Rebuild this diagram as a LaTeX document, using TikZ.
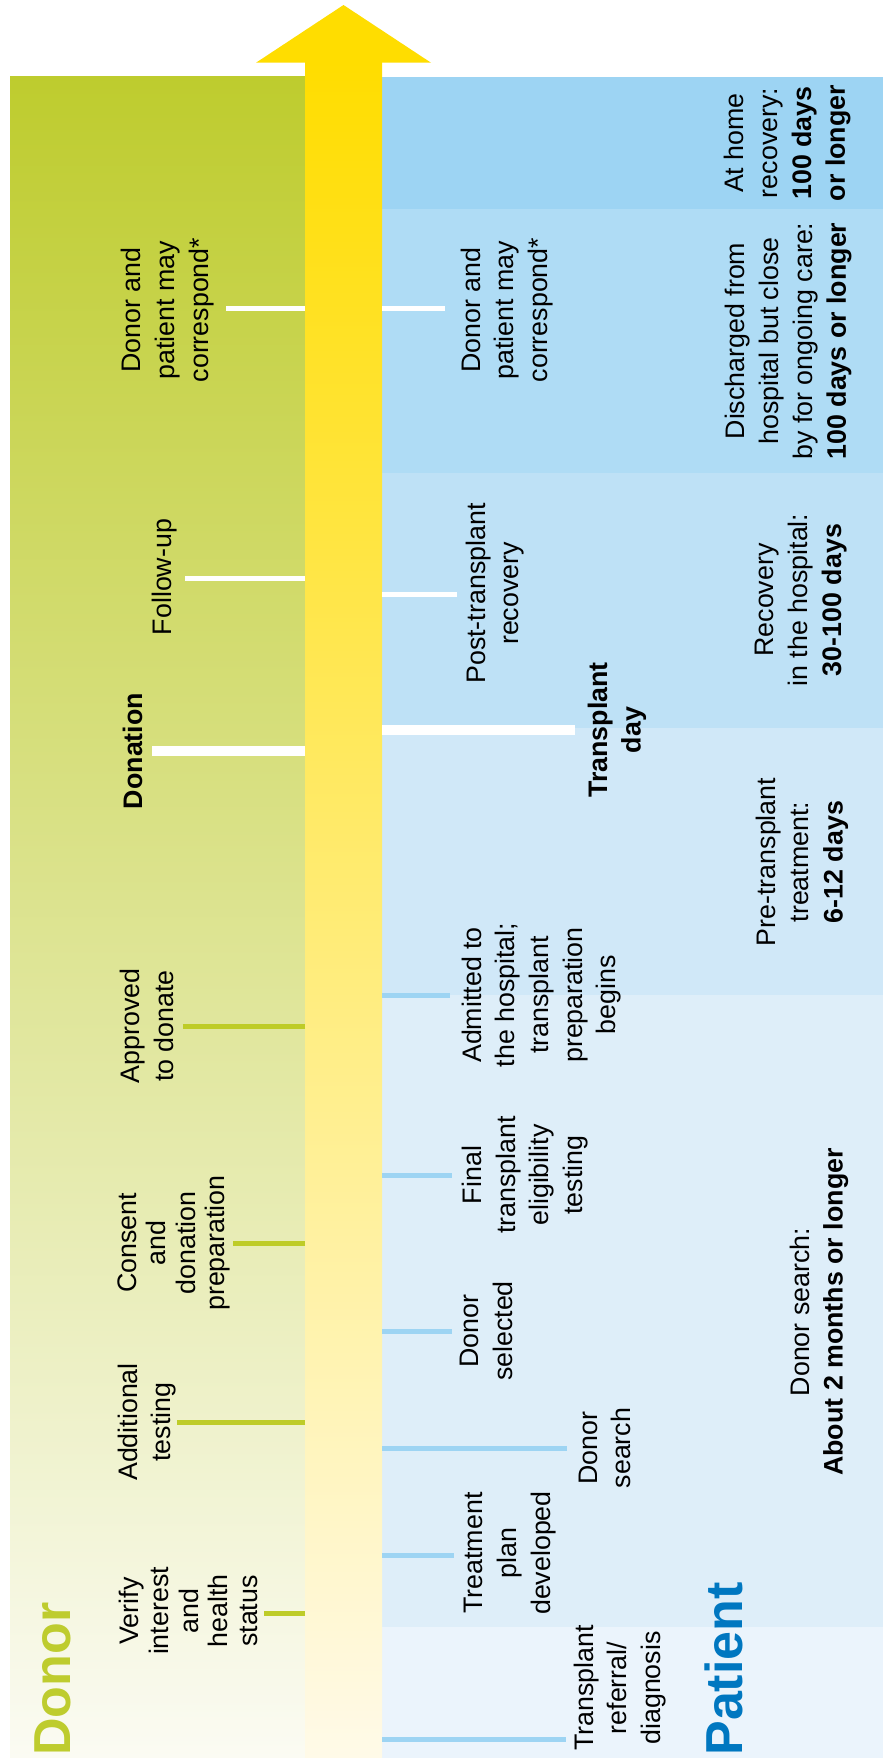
\documentclass[tikz,border=0pt]{standalone}
\usepackage{fontspec}
\setmainfont{Liberation Sans}
\definecolor{grtop}{RGB}{190,204,46}
\definecolor{grbot}{RGB}{251,251,243}
\definecolor{yel}{RGB}{255,221,0}
\definecolor{yelbot}{RGB}{255,250,232}
\definecolor{bandA}{RGB}{157,212,243}
\definecolor{bandB}{RGB}{175,220,245}
\definecolor{bandC}{RGB}{190,225,246}
\definecolor{bandD}{RGB}{208,232,248}
\definecolor{bandE}{RGB}{222,238,249}
\definecolor{bandF}{RGB}{235,244,252}
\definecolor{tickgreen}{RGB}{190,204,40}
\definecolor{tickblue}{RGB}{157,212,243}
\definecolor{patblue}{RGB}{0,119,192}
\begin{document}
\begin{tikzpicture}[x=0.5pt,y=-0.5pt,
  lbl/.style={font=\fontsize{13.4pt}{16.8pt}\selectfont, align=center, inner sep=0pt, rotate=90},
  tight/.style={font=\fontsize{13.4pt}{14.8pt}\selectfont},
  tickw/.style={draw=white, line width=2.5pt},
  tickwt/.style={draw=white, line width=5pt},
  tickg/.style={draw=tickgreen, line width=2.5pt},
  tickb/.style={draw=tickblue, line width=2.5pt},
  heading/.style={font=\fontsize{26pt}{30pt}\selectfont\bfseries, inner sep=0pt, rotate=90, anchor=base west},
]
\useasboundingbox (0,0) rectangle (883,1758);
\fill[white] (0,0) rectangle (883,1758);
% donor panel
\shade[top color=grtop, bottom color=grbot] (10,76) rectangle (305,1758);
% patient bands
\fill[bandA] (382,77) rectangle (883,209);
\fill[bandB] (382,209) rectangle (883,473);
\fill[bandC] (382,473) rectangle (883,728);
\fill[bandD] (382,728) rectangle (883,995);
\fill[bandE] (382,995) rectangle (883,1627);
\fill[bandF] (382,1627) rectangle (883,1758);
% arrow
\shade[top color=yel, bottom color=yelbot] (305,62) rectangle (382,1758);
\fill[yel] (256,62.7) -- (431,62.7) -- (343.5,5) -- cycle;

% tick coordinates
\coordinate (gs1) at (305,308);  \coordinate (ge1) at (226,308);
\coordinate (gs2) at (305,578);  \coordinate (ge2) at (185,578);
\coordinate (gs3) at (305,751);  \coordinate (ge3) at (152,751);
\coordinate (gs4) at (305,1026); \coordinate (ge4) at (183,1026);
\coordinate (gs5) at (305,1243); \coordinate (ge5) at (233,1243);
\coordinate (gs6) at (305,1422); \coordinate (ge6) at (177,1422);
\coordinate (gs7) at (305,1613); \coordinate (ge7) at (264,1613);
\coordinate (ps1) at (382,308);  \coordinate (pe1) at (445,308);
\coordinate (ps2) at (382,594);  \coordinate (pe2) at (457,594);
\coordinate (ps3) at (382,730);  \coordinate (pe3) at (575,730);
\coordinate (ps4) at (382,995);  \coordinate (pe4) at (450,995);
\coordinate (ps5) at (382,1175); \coordinate (pe5) at (452,1175);
\coordinate (ps6) at (382,1331); \coordinate (pe6) at (452,1331);
\coordinate (ps7) at (382,1448); \coordinate (pe7) at (567,1448);
\coordinate (ps8) at (382,1555); \coordinate (pe8) at (454,1555);
\coordinate (ps9) at (382,1739); \coordinate (pe9) at (566,1739);

\draw[tickw]  (gs1) -- (ge1);
\draw[tickw]  (gs2) -- (ge2);
\draw[tickwt] (gs3) -- (ge3);
\draw[tickg]  (gs4) -- (ge4);
\draw[tickg]  (gs5) -- (ge5);
\draw[tickg]  (gs6) -- (ge6);
\draw[tickg]  (gs7) -- (ge7);
\draw[tickw]  (ps1) -- (pe1);
\draw[tickw]  (ps2) -- (pe2);
\draw[tickwt] (ps3) -- (pe3);
\draw[tickb]  (ps4) -- (pe4);
\draw[tickb]  (ps5) -- (pe5);
\draw[tickb]  (ps6) -- (pe6);
\draw[tickb]  (ps7) -- (pe7);
\draw[tickb]  (ps8) -- (pe8);
\draw[tickb]  (ps9) -- (pe9);

% headings
\node[heading, text=grtop] (donorhead) at (70,1756) {Donor};
\node[heading, text=patblue] (patienthead) at (742,1756) {Patient};

% donor labels
\node[lbl] (gcorr) at (167.5,310) {Donor and\\patient may\\correspond*};
\node[lbl] (gfollow) at (164.5,577) {Follow-up};
\node[lbl] (gdonation) at (132.5,751) {\textbf{Donation}};
\node[lbl] (gapproved) at (146.7,1026) {Approved\\to donate};
\node[lbl, tight] (gconsent) at (174,1243) {Consent\\and\\donation\\preparation};
\node[lbl] (gadd) at (147,1422) {Additional\\testing};
\node[lbl, tight] (gverify) at (188.5,1611) {Verify\\interest\\and\\health\\status};

% patient labels
\node[lbl] (pcorr) at (507,310) {Donor and\\patient may\\correspond*};
\node[lbl] (ppost) at (495,593.5) {Post-transplant\\recovery};
\node[lbl] (pday) at (617,730) {\textbf{Transplant}\\\textbf{day}};
\node[lbl] (padmit) at (541.5,995) {Admitted to\\the hospital;\\transplant\\preparation\\begins};
\node[lbl] (pfinal) at (525,1175) {Final\\transplant\\eligibility\\testing};
\node[lbl] (psel) at (486.5,1331) {Donor\\selected};
\node[lbl] (psearch) at (605,1448) {Donor\\search};
\node[lbl] (ptreat) at (510,1553) {Treatment\\plan\\developed};
\node[lbl] (pref) at (620,1688) {Transplant\\referral/\\diagnosis};

% duration labels
\node[lbl] (athome) at (787.5,143) {At home\\recovery:\\\textbf{100 days}\\\textbf{or longer}};
\node[lbl] (disch) at (788.5,341) {Discharged from\\hospital but close\\by for ongoing care:\\\textbf{100 days or longer}};
\node[lbl] (recov) at (801,600) {Recovery\\in the hospital:\\\textbf{30-100 days}};
\node[lbl] (pretx) at (802,862) {Pre-transplant\\treatment:\\\textbf{6-12 days}};
\node[lbl] (dsearch) at (819,1312) {Donor search:\\\textbf{About 2 months or longer}};
\end{tikzpicture}
\end{document}
